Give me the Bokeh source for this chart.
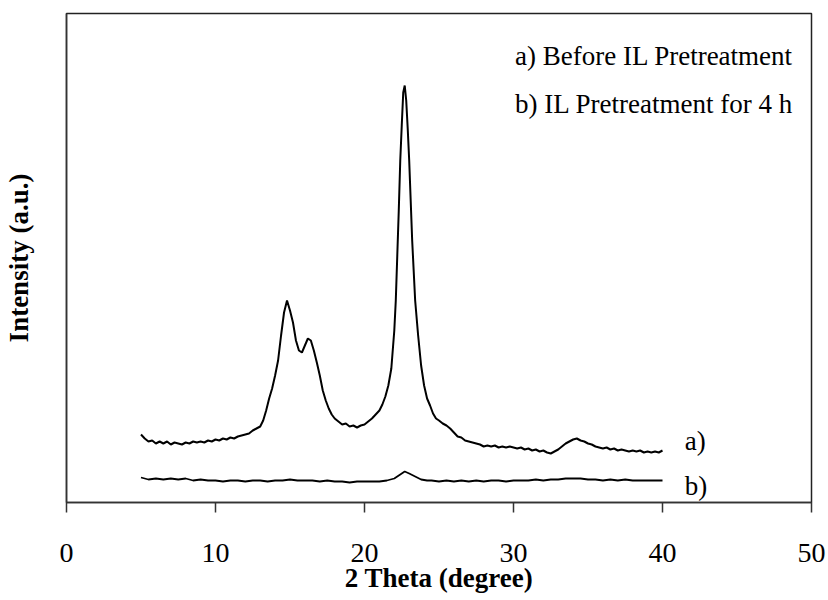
from bokeh.plotting import figure
from bokeh.models import Range1d, FixedTicker, Label
from bokeh.embed import file_html
from bokeh.resources import INLINE

# 2 theta (degree) and intensity (arbitrary units) for curve a) before IL pretreatment
theta_a = [5.0, 5.25, 5.5, 5.75, 6.0, 6.25, 6.5, 6.75, 7.0, 7.25, 7.5, 7.75, 8.0, 8.25, 8.5, 8.75,
           9.0, 9.25, 9.5, 9.75, 10.0, 10.25, 10.5, 10.75, 11.0, 11.25, 11.5, 11.75, 12.0, 12.25,
           12.5, 12.75, 13.0, 13.2, 13.4, 13.6, 13.8, 14.0, 14.2, 14.4, 14.6, 14.8, 15.0, 15.2,
           15.4, 15.6, 15.8, 16.0, 16.2, 16.4, 16.6, 16.8, 17.0, 17.2, 17.4, 17.6, 17.8, 18.0,
           18.25, 18.5, 18.75, 19.0, 19.25, 19.5, 19.75, 20.0, 20.25, 20.5, 20.75, 21.0, 21.2,
           21.4, 21.6, 21.8, 22.0, 22.1, 22.2, 22.3, 22.4, 22.5, 22.6, 22.7, 22.8, 22.9, 23.0,
           23.1, 23.2, 23.3, 23.4, 23.6, 23.8, 24.0, 24.2, 24.4, 24.6, 24.8, 25.0, 25.25, 25.5,
           25.75, 26.0, 26.25, 26.5, 26.75, 27.0, 27.25, 27.5, 27.75, 28.0, 28.25, 28.5, 28.75,
           29.0, 29.25, 29.5, 29.75, 30.0, 30.25, 30.5, 30.75, 31.0, 31.25, 31.5, 31.75, 32.0,
           32.25, 32.5, 32.75, 33.0, 33.25, 33.5, 33.75, 34.0, 34.25, 34.5, 34.75, 35.0, 35.25,
           35.5, 35.75, 36.0, 36.25, 36.5, 36.75, 37.0, 37.25, 37.5, 37.75, 38.0, 38.25, 38.5,
           38.75, 39.0, 39.25, 39.5, 39.75, 40.0]
intensity_a = [68, 64, 61, 62, 59, 61, 59, 61, 58, 60, 59, 58, 60, 59, 61, 60,
               61, 60, 62, 61, 63, 62, 64, 63, 65, 64, 66, 67, 68, 69,
               72, 74, 76, 82, 92, 104, 114, 127, 142, 167, 190, 202, 192, 180,
               162, 152, 150, 157, 164, 162, 152, 140, 127, 112, 102, 94, 88, 84,
               81, 78, 79, 76, 77, 75, 77, 78, 81, 84, 88, 92, 98,
               106, 117, 134, 172, 202, 247, 292, 342, 377, 410, 417, 402, 374, 342,
               302, 262, 232, 202, 167, 137, 117, 104, 97, 89, 84, 82, 79, 77,
               74, 70, 66, 65, 62, 61, 60, 59, 58, 56, 57, 56, 57,
               55, 56, 55, 56, 55, 54, 55, 53, 54, 52, 53, 51, 52,
               50, 49, 51, 53, 56, 59, 61, 63, 64, 62, 61, 59, 58,
               56, 55, 54, 55, 53, 54, 52, 53, 52, 51, 52, 51, 52,
               50, 51, 50, 51, 50, 52]

# curve b) IL pretreatment for 4 h
theta_b = [5.0, 5.5, 6.0, 6.5, 7.0, 7.5, 8.0, 8.5, 9.0, 9.5, 10.0, 10.5, 11.0, 11.5, 12.0,
           12.5, 13.0, 13.5, 14.0, 14.5, 15.0, 15.5, 16.0, 16.5, 17.0, 17.5, 18.0, 18.5, 19.0,
           19.5, 20.0, 20.5, 21.0, 21.5, 22.0, 22.4, 22.7, 23.0, 23.4, 23.8, 24.2, 24.5, 25.0,
           25.5, 26.0, 26.5, 27.0, 27.5, 28.0, 28.5, 29.0, 29.5, 30.0, 30.5, 31.0, 31.5, 32.0,
           32.5, 33.0, 33.5, 34.0, 34.5, 35.0, 35.5, 36.0, 36.5, 37.0, 37.5, 38.0, 38.5, 39.0,
           39.5, 40.0]
intensity_b = [25, 23, 24, 23, 24, 23, 24, 22, 23, 22, 22, 21, 22, 22, 21,
               22, 22, 21, 22, 22, 23, 22, 22, 22, 21, 22, 21, 21, 20,
               21, 21, 21, 21, 22, 24, 28, 31, 29, 26, 23, 22, 22, 21,
               22, 21, 22, 21, 22, 21, 22, 22, 21, 22, 22, 22, 23, 22,
               23, 23, 24, 24, 24, 23, 23, 22, 23, 22, 23, 22, 22, 22,
               22, 22]

x_ticks = [0, 10, 20, 30, 40, 50]
legend_lines = ["a) Before IL Pretreatment", "b) IL Pretreatment for 4 h"]
curve_tags = ["a)", "b)"]

FONT = "Liberation Serif"

p = figure(frame_width=745, frame_height=489, output_backend="svg", toolbar_location=None,
           x_range=Range1d(0, 50), y_range=Range1d(0, 489),
           min_border_left=66, min_border_right=17, min_border_top=13, min_border_bottom=98,
           background_fill_color="white", border_fill_color="white")
p.xgrid.visible = False
p.ygrid.visible = False
p.outline_line_color = "#222222"
p.outline_line_width = 1.5

p.line(theta_a, intensity_a, line_color="black", line_width=2)
p.line(theta_b, intensity_b, line_color="black", line_width=1.8)

xa = p.xaxis[0]
xa.ticker = FixedTicker(ticks=x_ticks)
xa.minor_tick_line_color = None
xa.major_tick_out = 10
xa.major_tick_in = 0
xa.major_tick_line_color = "#333333"
xa.major_tick_line_width = 1.5
xa.axis_line_color = "#333333"
xa.axis_line_width = 1.5
xa.major_label_text_font = FONT
xa.major_label_text_font_size = "28px"
xa.major_label_text_color = "black"
xa.major_label_standoff = 31
xa.axis_label = "2 Theta (degree)"
xa.axis_label_text_font = FONT
xa.axis_label_text_font_size = "27px"
xa.axis_label_text_font_style = "bold"
xa.axis_label_text_color = "black"
xa.axis_label_standoff = -2

ya = p.yaxis[0]
ya.ticker = FixedTicker(ticks=[])
ya.minor_tick_line_color = None
ya.major_tick_line_color = None
ya.major_tick_out = 0
ya.major_tick_in = 0
ya.major_label_text_font_size = "0px"
ya.major_label_standoff = 0
ya.axis_line_color = "#333333"
ya.axis_line_width = 1.5
ya.axis_label = "Intensity (a.u.)"
ya.axis_label_text_font = FONT
ya.axis_label_text_font_size = "27px"
ya.axis_label_text_font_style = "bold"
ya.axis_label_text_color = "black"
ya.axis_label_standoff = 33

legend_y = [447, 399]
for txt, yy in zip(legend_lines, legend_y):
    p.add_layout(Label(x=30.1, y=yy, text=txt, text_font=FONT, text_font_size="27px",
                       text_baseline="middle", text_color="black"))

tag_y = [62, 17]
for txt, yy in zip(curve_tags, tag_y):
    p.add_layout(Label(x=41.5, y=yy, text=txt, text_font=FONT, text_font_size="27px",
                       text_baseline="middle", text_color="black"))

open("out.html", "w").write(file_html(p, INLINE))
